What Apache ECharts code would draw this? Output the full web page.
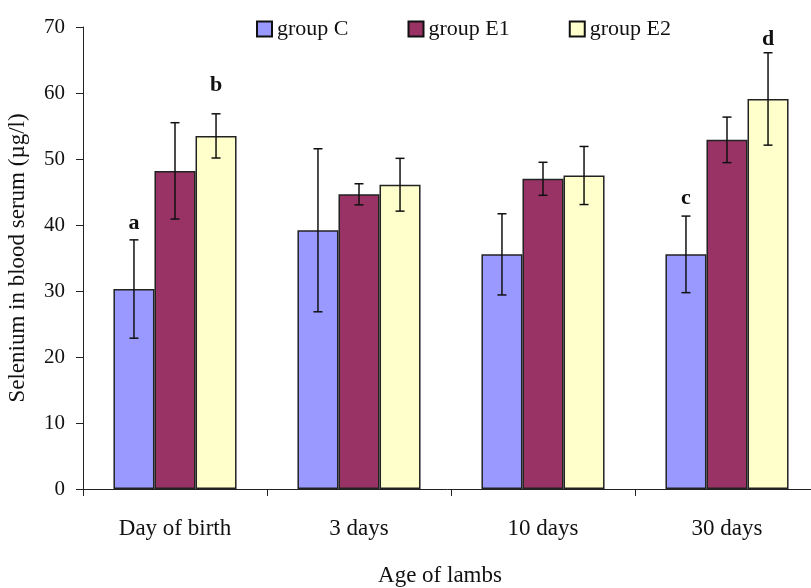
<!DOCTYPE html>
<html>
<head>
<meta charset="utf-8">
<script src="https://cdn.jsdelivr.net/npm/echarts@6/dist/echarts.min.js"></script>
<style>html,body{margin:0;padding:0;background:#fff}#chart{width:811px;height:588px}</style>
</head>
<body>
<div id="chart"></div>
<script>
var categories = ['Day of birth', '3 days', '10 days', '30 days'];
var groupNames = ['group C', 'group E1', 'group E2'];
var meanC  = [30.3, 39.2, 35.55, 35.55];
var meanE1 = [48.2, 44.65, 47.0, 52.9];
var meanE2 = [53.5, 46.1, 47.5, 59.1];
var sdC  = [7.45, 12.35, 6.15, 5.8];
var sdE1 = [7.3, 1.6, 2.5, 3.45];
var sdE2 = [3.35, 4.0, 4.4, 7.0];
// significance letters: [category index, group index, y position (value), letter]
var letterCat = [0, 0, 3, 3];
var letterGroup = [0, 2, 0, 2];
var letterY = [40.3, 61.1, 44.0, 68.1];
var letterText = ['a', 'b', 'c', 'd'];
var yTicks = {min: 0, max: 70, interval: 10};

var colors = ['#9999FF', '#993366', '#FFFFCC'];
var means = [meanC, meanE1, meanE2];
var sds = [sdC, sdE1, sdE2];
var BAR_FRAC = 0.223;
var FONT = 'Liberation Serif';

var chart = echarts.init(document.getElementById('chart'));
var series = [];
groupNames.forEach(function (g, gi) {
  series.push({
    name: g, type: 'bar', data: means[gi],
    barWidth: (BAR_FRAC * 100) + '%', barGap: '0%',
    itemStyle: {color: colors[gi], borderColor: '#222', borderWidth: 1.5},
    emphasis: {disabled: true}
  });
});
groupNames.forEach(function (g, gi) {
  var d = means[gi].map(function (m, i) { return [i, m - sds[gi][i], m + sds[gi][i]]; });
  series.push({
    type: 'custom', z: 10, silent: true,
    data: d,
    renderItem: function (params, api) {
      var ci = api.value(0);
      var band = api.size([1, 0])[0];
      var off = (gi - 1) * band * BAR_FRAC;
      var pLo = api.coord([ci, api.value(1)]);
      var pHi = api.coord([ci, api.value(2)]);
      var x = pLo[0] + off;
      var cap = 4.5;
      var st = {stroke: '#111', lineWidth: 1.5};
      return {type: 'group', children: [
        {type: 'line', shape: {x1: x, y1: pLo[1], x2: x, y2: pHi[1]}, style: st},
        {type: 'line', shape: {x1: x - cap, y1: pLo[1], x2: x + cap, y2: pLo[1]}, style: st},
        {type: 'line', shape: {x1: x - cap, y1: pHi[1], x2: x + cap, y2: pHi[1]}, style: st}
      ]};
    }
  });
});
series.push({
  type: 'custom', z: 11, silent: true,
  data: letterCat.map(function (c, i) { return [c, letterY[i], letterGroup[i], i]; }),
  renderItem: function (params, api) {
    var ci = api.value(0);
    var band = api.size([1, 0])[0];
    var off = (api.value(2) - 1) * band * BAR_FRAC;
    var p = api.coord([ci, api.value(1)]);
    return {type: 'text', style: {
      text: letterText[api.value(3)], x: p[0] + off, y: p[1],
      align: 'center', verticalAlign: 'middle',
      font: 'bold 22px "' + FONT + '"', fill: '#111'
    }};
  }
});

chart.setOption({
  animation: false,
  backgroundColor: '#fff',
  textStyle: {fontFamily: FONT},
  grid: {left: 83, top: 27, width: 736, height: 462, outerBoundsMode: 'none', containLabel: false},
  legend: {
    data: groupNames, left: 251, top: 13, itemWidth: 15, itemHeight: 15, itemGap: 59,
    icon: 'rect',
    itemStyle: {borderColor: '#111', borderWidth: 2},
    textStyle: {fontFamily: FONT, fontSize: 22, color: '#111'}
  },
  xAxis: {
    type: 'category', data: categories,
    name: 'Age of lambs', nameLocation: 'middle', nameGap: 75,
    nameTextStyle: {fontFamily: FONT, fontSize: 23, color: '#111', padding: [0, 22, 0, 0]},
    axisLine: {lineStyle: {color: '#222', width: 1}},
    axisTick: {show: true, length: 7, alignWithLabel: false, lineStyle: {color: '#222'}},
    axisLabel: {fontFamily: FONT, fontSize: 23, color: '#111', margin: 28}
  },
  yAxis: {
    type: 'value', min: yTicks.min, max: yTicks.max, interval: yTicks.interval,
    name: 'Selenium in blood serum (µg/l)', nameLocation: 'middle', nameGap: 54,
    nameTextStyle: {fontFamily: FONT, fontSize: 23, color: '#111'},
    axisLine: {show: true, lineStyle: {color: '#222', width: 1}},
    axisTick: {show: true, length: 7, lineStyle: {color: '#222'}},
    splitLine: {show: false},
    axisLabel: {fontFamily: FONT, fontSize: 21, color: '#111', margin: 18}
  },
  series: series
});
</script>
</body>
</html>
